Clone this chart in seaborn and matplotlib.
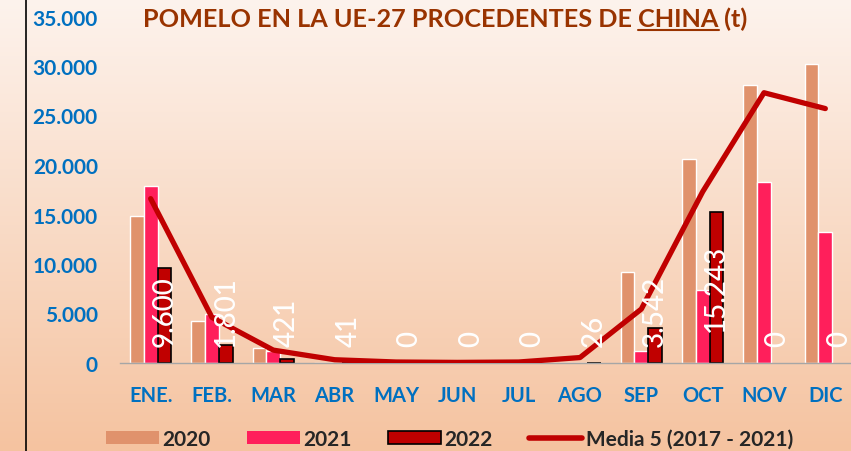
import numpy as np
import pandas as pd
import matplotlib
matplotlib.use("Agg")
import matplotlib.pyplot as plt
from matplotlib.patches import Patch
from matplotlib.lines import Line2D
from matplotlib.ticker import FuncFormatter
import seaborn as sns

# Monthly pomelo imports into the EU-27 from China (tonnes)
meses = ["ENE.", "FEB.", "MAR", "ABR", "MAY", "JUN", "JUL", "AGO", "SEP", "OCT", "NOV", "DIC"]
t2020 = [14800, 4200, 1500, 0, 0, 0, 0, 0, 9200, 20600, 28100, 30200]
t2021 = [17900, 4900, 1200, 0, 0, 0, 0, 0, 1200, 7400, 18300, 13200]
t2022 = [9600, 1801, 421, 41, 0, 0, 0, 26, 3542, 15243, 0, 0]
media5 = [16600, 4600, 1300, 330, 100, 60, 100, 550, 5450, 17300, 27300, 25700]
series = ["2020", "2021", "2022"]
media_label = "Media 5 (2017 - 2021)"
yticks = [0, 5000, 10000, 15000, 20000, 25000, 30000, 35000]

colores = {"2020": "#E0926C", "2021": "#FF1F5B", "2022": "#C00000"}
c_media = "#C00000"
c_axis_text = "#0070C0"
c_title = "#993300"

sns.set_theme(style="white")
plt.rcParams["font.family"] = ["Lato", "DejaVu Sans"]

df = pd.DataFrame({
    "mes": meses * 3,
    "serie": np.repeat(series, len(meses)),
    "t": t2020 + t2021 + t2022,
})

W, H = 851, 452
fig = plt.figure(figsize=(W / 100, H / 100), dpi=100)

# soft vertical gradient behind everything
bg = fig.add_axes([0, 0, 1, 1], zorder=-10)
top = np.array([253, 243, 237]) / 255
bot = np.array([245, 195, 160]) / 255
grad = np.linspace(0, 1, 256)[:, None] * (bot - top) + top
bg.imshow(grad[:, None, :], aspect="auto", extent=[0, 1, 0, 1], origin="upper")
bg.axis("off")

ax = fig.add_axes([120 / W, 88 / H, 736 / W, 346.5 / H])
ax.patch.set_alpha(0)

sns.barplot(data=df, x="mes", y="t", hue="serie", order=meses, hue_order=series,
            palette=colores, width=0.67, gap=0, saturation=1, legend=False, ax=ax)
for bar in ax.containers[2]:
    bar.set_edgecolor("black")
    bar.set_linewidth(1.2 if bar.get_height() > 0 else 0)

sns.lineplot(x=np.arange(len(meses)), y=media5, color=c_media, linewidth=3.8,
             solid_capstyle="round", ax=ax, zorder=5)

ax.set_xlim(-0.5, len(meses) - 0.5)
ax.set_ylim(0, 35000)
ax.set_xlabel("")
ax.set_ylabel("")
ax.set_yticks(yticks)
ax.yaxis.set_major_formatter(FuncFormatter(lambda v, p: f"{v:,.0f}".replace(",", ".")))
ax.set_xticks(range(len(meses)))
ax.set_xticklabels(meses)
ax.set_xticks(np.arange(-0.5, len(meses)), minor=True)
ax.tick_params(axis="y", length=0, pad=16, labelsize=15, labelcolor=c_axis_text)
ax.tick_params(axis="x", which="major", length=0, pad=16, labelsize=14.5, labelcolor=c_axis_text)
ax.tick_params(axis="x", which="minor", length=4, width=1, color="#A6A6A6", direction="out")
for lab in ax.get_xticklabels() + ax.get_yticklabels():
    lab.set_fontweight("bold")
for s in ("top", "right", "left"):
    ax.spines[s].set_visible(False)
ax.spines["bottom"].set_color("#A6A6A6")
ax.spines["bottom"].set_linewidth(1)

# value labels for 2022, centred in the bar but kept clear of the axis
renderer = fig.canvas.get_renderer()
zero_px = ax.transData.transform((0, 0))[1]
min_bottom = zero_px + 17
off = 0.67 / 3
for i, v in enumerate(t2022):
    txt = ax.text(i + off, v / 2, f"{v:,.0f}".replace(",", "."), rotation=90,
                  ha="center", va="center", color="white", fontsize=20,
                  fontweight="medium", zorder=6)
    bb = txt.get_window_extent(renderer)
    if bb.y0 < min_bottom:
        txt.set_va("bottom")
        txt.set_y(ax.transData.inverted().transform((0, min_bottom))[1])

# title with underlined country name
parts = ["POMELO EN LA UE-27 PROCEDENTES DE ", "CHINA", " (t)"]
x0 = 143 / W
ybase = 1 - 27 / H
ext = []
for p in parts:
    t = fig.text(x0, ybase, p, ha="left", va="baseline", fontsize=18.2,
                 fontweight="bold", color=c_title)
    bb = t.get_window_extent(renderer)
    ext.append((bb.x0, bb.x1))
    x0 = bb.x1 / W
cx0, cx1 = ext[1]
yline = 1 - 30.5 / H
fig.add_artist(Line2D([cx0 / W, cx1 / W], [yline, yline], transform=fig.transFigure,
                      color=c_title, lw=1.5))

# frame line on the left edge
fig.add_artist(Line2D([26 / W, 26 / W], [0, 1], transform=fig.transFigure,
                      color="black", lw=1.2))

handles = [
    Patch(facecolor=colores["2020"], edgecolor="none"),
    Patch(facecolor=colores["2021"], edgecolor="none"),
    Patch(facecolor=colores["2022"], edgecolor="black", linewidth=1.2),
    Line2D([], [], color=c_media, lw=4, solid_capstyle="round"),
]
fig.legend(handles, series + [media_label], loc="center",
           bbox_to_anchor=(449.5 / W, 1 - 440 / H), ncol=4, frameon=False,
           prop=dict(weight="bold", size=15), handlelength=2.55, handleheight=0.62,
           handletextpad=0.15, columnspacing=1.75)

fig.savefig("out.png", dpi=100)
